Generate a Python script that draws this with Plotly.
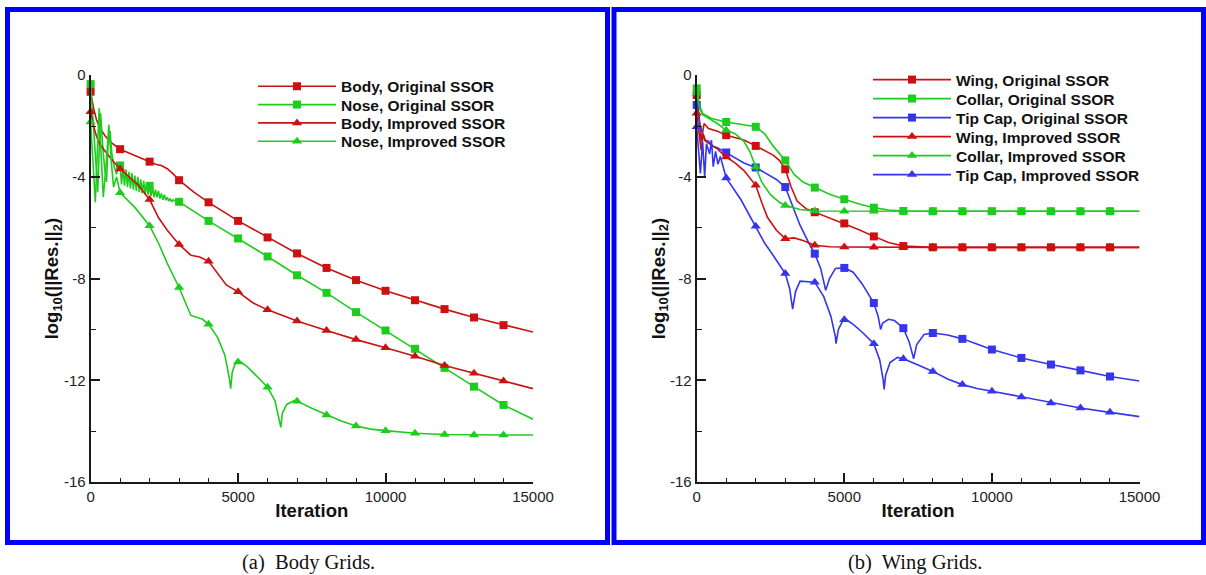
import plotly.graph_objects as go

W, H = 1206, 575

# ---------------- tick labels ----------------
ITER_TICKS = [0, 5000, 10000, 15000]
ITER_TICK_TEXT = ["0", "5000", "10000", "15000"]
RES_TICKS = [0, -4, -8, -12, -16]
RES_TICK_TEXT = ["0", "-4", "-8", "-12", "-16"]

# ---------------- (a) Body grids ----------------
BODY_ORIG_X = [0, 100, 200, 300, 500, 700, 1000, 1300, 1600, 2000, 2200, 2400, 2600, 2800, 3000,
               3500, 4000, 5000, 6000, 7000, 8000, 9000, 10000, 11000, 12000, 13000, 14000, 15000]
BODY_ORIG_Y = [-0.65, -1.3, -1.75, -2.05, -2.4, -2.65, -2.91, -3.05, -3.2, -3.4, -3.5, -3.55, -3.68, -3.88, -4.13,
               -4.6, -5.0, -5.73, -6.38, -7.01, -7.58, -8.06, -8.48, -8.85, -9.2, -9.53, -9.83, -10.1]

NOSE_ORIG_X = [0, 80, 150, 200, 240, 290, 340, 400, 470, 540, 600, 660, 720, 800, 880, 950,
               1000, 1050, 1100, 1150, 1200, 1250, 1300, 1350, 1400, 1450, 1500, 1550, 1600, 1650,
               1700, 1750, 1800, 1850, 1900, 1950, 2000, 2050, 2100, 2150, 2200, 2250, 2300, 2350,
               2400, 2450, 2500, 2550, 2600, 2650, 2700, 2750, 2800, 2900, 3000,
               4000, 5000, 6000, 7000, 8000, 9000, 10000, 11000, 12000, 13000, 14000, 15000]
NOSE_ORIG_Y = [-0.35, -1.6, -2.8, -3.8, -4.6, -3.0, -1.5, -2.6, -3.6, -4.2, -2.5, -2.2, -3.1, -3.6, -3.9, -3.5,
               -3.55, -4.3, -3.6, -4.35, -3.7, -4.4, -3.8, -4.45, -3.85, -4.5, -3.95, -4.55, -4.0, -4.6,
               -4.1, -4.65, -4.15, -4.7, -4.25, -4.7, -4.35, -4.75, -4.4, -4.8, -4.5, -4.8, -4.55, -4.85,
               -4.65, -4.9, -4.7, -4.92, -4.8, -4.95, -4.85, -4.98, -4.9, -4.97, -4.98,
               -5.73, -6.42, -7.13, -7.87, -8.56, -9.32, -10.04, -10.76, -11.51, -12.25, -12.97, -13.53]

BODY_IMPR_X = [0, 100, 200, 300, 500, 700, 1000, 1300, 1600, 2000, 2300, 2600, 3000, 3400, 3700, 4000,
               4300, 4600, 5000, 5500, 6000, 7000, 8000, 9000, 10000, 11000, 12000, 13000, 14000, 15000]
BODY_IMPR_Y = [-1.44, -2.0, -2.4, -2.7, -3.0, -3.3, -3.69, -4.0, -4.3, -4.89, -5.6, -6.1, -6.66, -7.08, -7.15, -7.32,
               -7.8, -8.25, -8.52, -8.95, -9.23, -9.67, -10.04, -10.4, -10.72, -11.05, -11.42, -11.72, -12.03, -12.33]

NOSE_IMPR_X = [0, 80, 160, 230, 290, 360, 430, 520, 620, 700, 780, 880, 1000, 1500, 2000, 2300, 2600, 3000,
               3400, 3800, 4000, 4300, 4550, 4700, 4750, 4800, 4900, 5000, 5050, 5300, 5600, 6000, 6250,
               6400, 6450, 6500, 6650, 6900, 7000, 7500, 8000, 8500, 9000, 9500, 10000, 11000, 12000,
               13000, 14000, 15000]
NOSE_IMPR_Y = [-1.84, -3.4, -5.0, -3.0, -1.3, -3.2, -4.8, -3.6, -1.95, -3.4, -4.4, -4.0, -4.62, -5.2, -5.92, -6.6, -7.4, -8.35,
               -9.45, -9.6, -9.8, -10.3, -11.0, -11.9, -12.33, -11.7, -11.35, -11.28, -11.25, -11.45, -11.8, -12.27, -12.8,
               -13.5, -13.85, -13.3, -12.95, -12.8, -12.82, -13.1, -13.36, -13.6, -13.8, -13.92, -13.98, -14.08, -14.13,
               -14.15, -14.15, -14.15]

# ---------------- (b) Wing grids ----------------
WING_ORIG_X = [0, 80, 150, 250, 400, 700, 1000, 1300, 1600, 2000, 2300, 2600, 2800, 3000, 3200, 3400, 3700,
               4000, 4500, 5000, 5500, 6000, 6500, 7000, 7500, 8000, 9000, 10000, 11000, 12000, 13000, 14000, 15000]
WING_ORIG_Y = [-0.78, -1.6, -2.6, -1.9, -2.1, -2.2, -2.36, -2.45, -2.55, -2.78, -2.95, -3.15, -3.35, -3.7, -4.4, -4.95, -5.25,
               -5.39, -5.6, -5.83, -6.08, -6.34, -6.58, -6.72, -6.76, -6.77, -6.77, -6.77, -6.77, -6.77, -6.77, -6.77, -6.77]

COLLAR_ORIG_X = [0, 100, 200, 500, 1000, 1500, 2000, 2300, 2600, 3000, 3300, 3600, 4000, 4500, 5000, 5500,
                 6000, 6500, 7000, 8000, 9000, 10000, 11000, 12000, 13000, 14000, 15000]
COLLAR_ORIG_Y = [-0.52, -1.2, -1.5, -1.7, -1.84, -1.92, -2.03, -2.3, -2.8, -3.35, -3.9, -4.2, -4.42, -4.68, -4.88, -5.07,
                 -5.21, -5.3, -5.34, -5.35, -5.35, -5.35, -5.35, -5.35, -5.35, -5.35, -5.35]

TIP_ORIG_X = [0, 100, 200, 270, 400, 550, 700, 1000, 1300, 1600, 2000, 2400, 2700, 3000, 3200, 3500, 3800,
              4000, 4200, 4370, 4500, 4700, 5000, 5300, 5600, 6000, 6150, 6230, 6300, 6500, 6700, 7000, 7200,
              7350, 7450, 7700, 8000, 8500, 9000, 9500, 10000, 11000, 12000, 13000, 14000, 15000]
TIP_ORIG_Y = [-1.17, -1.9, -2.3, -2.55, -2.6, -2.8, -2.85, -3.04, -3.25, -3.45, -3.63, -3.9, -4.1, -4.4, -5.0, -5.9, -6.6,
              -7.02, -7.6, -8.46, -8.0, -7.6, -7.58, -7.75, -8.2, -8.96, -9.5, -10.0, -9.75, -9.6, -9.65, -9.95, -10.5,
              -11.15, -10.6, -10.2, -10.14, -10.22, -10.37, -10.58, -10.79, -11.12, -11.38, -11.61, -11.85, -12.03]

WING_IMPR_X = [0, 80, 150, 220, 300, 500, 700, 1000, 1300, 1600, 2000, 2200, 2400, 2700, 3000, 3300, 3600, 4000,
               4500, 5000, 6000, 7000, 8000, 9000, 10000, 11000, 12000, 13000, 14000, 15000]
WING_IMPR_Y = [-1.5, -2.2, -2.95, -2.3, -2.6, -2.75, -2.9, -3.22, -3.45, -3.75, -4.33, -5.0, -5.6, -6.1, -6.43, -6.4, -6.5, -6.69,
               -6.75, -6.76, -6.77, -6.77, -6.77, -6.77, -6.77, -6.77, -6.77, -6.77, -6.77, -6.77]

COLLAR_IMPR_X = [0, 100, 200, 400, 700, 1000, 1300, 1600, 1800, 2000, 2200, 2500, 2800, 3000, 3500, 4000,
                 5000, 6000, 7000, 8000, 9000, 10000, 11000, 12000, 13000, 14000, 15000]
COLLAR_IMPR_Y = [-0.71, -1.3, -1.55, -1.7, -1.9, -2.17, -2.3, -2.6, -3.0, -3.61, -4.2, -4.7, -5.0, -5.12, -5.28, -5.34,
                 -5.35, -5.35, -5.35, -5.35, -5.35, -5.35, -5.35, -5.35, -5.35, -5.35, -5.35]

TIP_IMPR_X = [0, 60, 125, 200, 270, 330, 440, 500, 560, 640, 720, 800, 900, 1000, 1500, 2000, 2300, 2600, 3000,
              3150, 3250, 3350, 3500, 4000, 4300, 4550, 4700, 4720, 4800, 4950, 5000, 5050, 5300, 5600, 6000,
              6200, 6320, 6350, 6400, 6550, 6800, 7000, 7500, 8000, 8500, 9000, 9500, 10000, 11000, 12000,
              13000, 14000, 15000]
TIP_IMPR_Y = [-2.03, -2.8, -3.86, -2.6, -4.0, -2.7, -3.1, -2.55, -3.6, -3.0, -3.5, -3.2, -3.6, -4.04, -4.9, -5.94, -6.6, -7.1, -7.8,
              -8.4, -9.2, -8.5, -8.1, -8.14, -8.7, -9.5, -10.3, -10.56, -10.0, -9.65, -9.62, -9.6, -9.8, -10.1, -10.56,
              -11.2, -12.0, -12.36, -11.8, -11.3, -11.1, -11.15, -11.4, -11.65, -11.95, -12.17, -12.32, -12.43, -12.66, -12.89,
              -13.09, -13.26, -13.43]

RED = "#CC1111"
GREEN = "#1ECC1E"
BLUE = "#3535EE"
AXIS = "#1a1a1a"

SERIES_A = [
    ("Body, Original SSOR", BODY_ORIG_X, BODY_ORIG_Y, RED, "square"),
    ("Nose, Original SSOR", NOSE_ORIG_X, NOSE_ORIG_Y, GREEN, "square"),
    ("Body, Improved SSOR", BODY_IMPR_X, BODY_IMPR_Y, RED, "triangle-up"),
    ("Nose, Improved SSOR", NOSE_IMPR_X, NOSE_IMPR_Y, GREEN, "triangle-up"),
]
SERIES_B = [
    ("Wing, Original SSOR", WING_ORIG_X, WING_ORIG_Y, RED, "square"),
    ("Collar, Original SSOR", COLLAR_ORIG_X, COLLAR_ORIG_Y, GREEN, "square"),
    ("Tip Cap, Original SSOR", TIP_ORIG_X, TIP_ORIG_Y, BLUE, "square"),
    ("Wing, Improved SSOR", WING_IMPR_X, WING_IMPR_Y, RED, "triangle-up"),
    ("Collar, Improved SSOR", COLLAR_IMPR_X, COLLAR_IMPR_Y, GREEN, "triangle-up"),
    ("Tip Cap, Improved SSOR", TIP_IMPR_X, TIP_IMPR_Y, BLUE, "triangle-up"),
]

fig = go.Figure()
legend_layout = {}
legend_idx = [0]


def msize(sym):
    return 8 if sym == "square" else 9


def add_series(name, xs, ys, color, sym, xa, ya, lx, ly):
    fig.add_trace(go.Scatter(x=xs, y=ys, mode="lines", line=dict(color=color, width=1.6),
                             xaxis=xa, yaxis=ya, showlegend=False, hoverinfo="skip"))
    mx = [x for x in xs if x % 1000 == 0 and x < 15000]
    my = [y for x, y in zip(xs, ys) if x % 1000 == 0 and x < 15000]
    fig.add_trace(go.Scatter(x=mx, y=my, mode="markers",
                             marker=dict(symbol=sym, size=msize(sym), color=color, line=dict(width=0)),
                             cliponaxis=False, xaxis=xa, yaxis=ya, showlegend=False, hoverinfo="skip"))
    legend_idx[0] += 1
    key = "legend" if legend_idx[0] == 1 else "legend%d" % legend_idx[0]
    fig.add_trace(go.Scatter(x=[None], y=[None], mode="lines+markers", name=name,
                             line=dict(color=color, width=1.6),
                             marker=dict(symbol=sym, size=msize(sym), color=color, line=dict(width=0)),
                             xaxis=xa, yaxis=ya, legend=key))
    legend_layout[key] = dict(x=lx / W, y=1 - ly / H, xanchor="left", yanchor="middle",
                              bgcolor="rgba(0,0,0,0)", borderwidth=0, itemwidth=78,
                              font=dict(family="Liberation Sans", size=15.5, color="#111", weight="bold"),
                              itemclick=False, itemdoubleclick=False)


rows_a = [86.7, 105, 123.3, 141.7]
for (name, xs, ys, c, s), ry in zip(SERIES_A, rows_a):
    add_series(name, xs, ys, c, s, "x", "y", 253, ry)

rows_b = [80, 99, 118, 137, 156, 175]
for (name, xs, ys, c, s), ry in zip(SERIES_B, rows_b):
    add_series(name, xs, ys, c, s, "x2", "y2", 868, ry)

ydom = [1 - 482 / H, 1 - 75.2 / H]


def xaxis_cfg(dom, anchor):
    return dict(domain=dom, anchor=anchor, range=[0, 15000], showgrid=False, zeroline=False,
                automargin=False,
                showline=True, linecolor=AXIS, linewidth=2, mirror=False,
                tickmode="array", tickvals=ITER_TICKS, ticktext=ITER_TICK_TEXT,
                ticks="inside", ticklen=9, tickwidth=2, tickcolor=AXIS,
                tickfont=dict(family="Liberation Sans", size=15, color="#222"),
                minor=dict(ticks="inside", ticklen=4, tickwidth=1.2, tickcolor=AXIS,
                           tickmode="linear", tick0=0, dtick=1000, showgrid=False),
                title=dict(text="<b>Iteration</b>", standoff=0,
                           font=dict(family="Liberation Sans", size=18.5, color="#111")),
                fixedrange=True)


def yaxis_cfg(anchor):
    return dict(domain=ydom, anchor=anchor, range=[-16, 0], showgrid=False, zeroline=False,
                automargin=False,
                showline=True, linecolor=AXIS, linewidth=2, mirror=False,
                tickmode="array", tickvals=RES_TICKS, ticktext=RES_TICK_TEXT,
                ticks="inside", ticklen=9, tickwidth=2, tickcolor=AXIS,
                tickfont=dict(family="Liberation Sans", size=15, color="#222"),
                minor=dict(ticks="inside", ticklen=5, tickwidth=1.2, tickcolor=AXIS,
                           tickmode="linear", tick0=0, dtick=2, showgrid=False),
                title=dict(text="<b>log<sub>10</sub>(||Res.||<sub>2</sub>)</b>", standoff=0,
                           font=dict(family="Liberation Sans", size=18.5, color="#111")),
                fixedrange=True)


fig.update_layout(
    template="none",
    width=W, height=H, margin=dict(l=0, r=0, t=0, b=0, pad=0, autoexpand=False),
    paper_bgcolor="white", plot_bgcolor="white",
    xaxis=xaxis_cfg([90.6 / W, 533 / W], "y"),
    yaxis=yaxis_cfg("x"),
    xaxis2=xaxis_cfg([696.7 / W, 1139.5 / W], "y2"),
    yaxis2=yaxis_cfg("x2"),
    showlegend=True,
    **legend_layout,
)

# blue panel frames
for x0, x1 in [(7.5, 607.5), (614, 1203.5)]:
    fig.add_shape(type="rect", xref="paper", yref="paper",
                  x0=x0 / W, x1=x1 / W, y0=1 - 542.5 / H, y1=1 - 9.5 / H,
                  line=dict(color="#0000FF", width=5), fillcolor="rgba(0,0,0,0)", layer="above")

# captions
for cx, txt in [(308.6, "(a)\u00a0 Body Grids."), (914.7, "(b)\u00a0 Wing Grids.")]:
    fig.add_annotation(x=cx / W, y=1 - 562.5 / H, xref="paper", yref="paper", text=txt,
                       showarrow=False, xanchor="center", yanchor="middle",
                       font=dict(family="Liberation Serif", size=20.5, color="#111"))

fig.write_html("out.html")
